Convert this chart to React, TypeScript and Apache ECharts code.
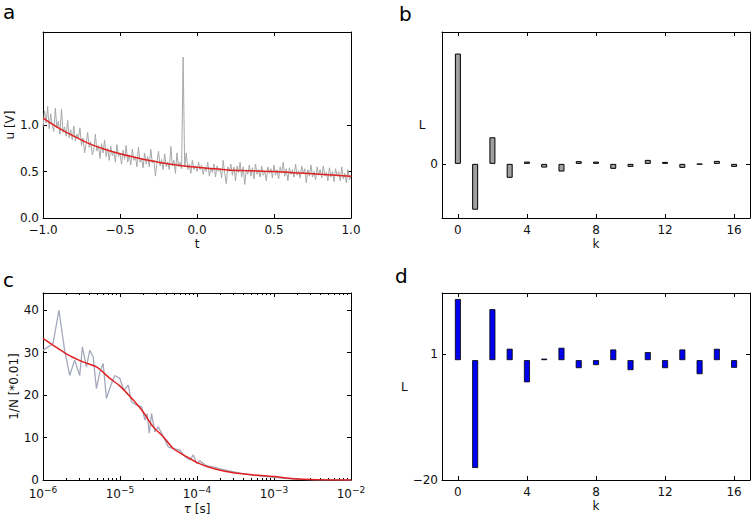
import React, { useEffect, useRef } from "react";
import * as echarts from "echarts";

const FONT = "DejaVu Sans";

// Panel a: noisy signal u(t), sampled every 0.01 from t = -1.0
const aStart = -1;
const aStep = 0.01;
const aNoisy = [
  0.98, 1.15, 1.02, 1.2, 0.96, 1.12, 1.0, 0.93, 1.18, 0.97,
  1.04, 0.9, 1.17, 0.92, 0.98, 0.88, 1.05, 0.86, 0.95, 0.84,
  0.99, 0.83, 0.9, 0.86, 0.97, 0.78, 0.86, 0.7, 0.8, 0.92,
  0.76, 0.82, 0.68, 0.74, 0.9, 0.72, 0.78, 0.64, 0.8, 0.7,
  0.84, 0.66, 0.75, 0.62, 0.77, 0.67, 0.72, 0.6, 0.79, 0.66,
  0.7, 0.58, 0.73, 0.63, 0.78, 0.6, 0.68, 0.57, 0.74, 0.62,
  0.66, 0.55, 0.76, 0.6, 0.64, 0.54, 0.7, 0.58, 0.66, 0.55,
  0.74, 0.59, 0.62, 0.45, 0.6, 0.72, 0.56, 0.63, 0.52, 0.69,
  0.55, 0.6, 0.52, 0.77, 0.56, 0.62, 0.48, 0.7, 0.55, 0.6,
  0.53, 1.73, 0.55, 0.7, 0.52, 0.58, 0.48, 0.62, 0.52, 0.56,
  0.5, 0.6, 0.52, 0.57, 0.47, 0.55, 0.5, 0.6, 0.45, 0.54,
  0.49, 0.58, 0.44, 0.56, 0.5, 0.53, 0.43, 0.62, 0.48, 0.37,
  0.55, 0.5, 0.58, 0.46, 0.55, 0.4, 0.56, 0.49, 0.6, 0.44,
  0.55, 0.36, 0.52, 0.47, 0.57, 0.45, 0.54, 0.42, 0.58, 0.47,
  0.52, 0.44, 0.56, 0.46, 0.5, 0.4, 0.55, 0.48, 0.53, 0.43,
  0.57, 0.46, 0.52, 0.42, 0.55, 0.48, 0.6, 0.45, 0.53, 0.4,
  0.54, 0.47, 0.52, 0.44, 0.58, 0.46, 0.51, 0.43, 0.56, 0.48,
  0.53, 0.38, 0.52, 0.45, 0.57, 0.44, 0.5, 0.41, 0.55, 0.46,
  0.52, 0.43, 0.56, 0.45, 0.49, 0.4, 0.54, 0.44, 0.5, 0.39,
  0.53, 0.45, 0.5, 0.4, 0.55, 0.42, 0.48, 0.38, 0.52, 0.41,
  0.45,
];
const aFitT = [-1, -0.9, -0.8, -0.7, -0.6, -0.5, -0.4, -0.3, -0.2, -0.1, 0, 0.1, 0.2, 0.3, 0.4, 0.5, 0.6, 0.7, 0.8, 0.9, 1];
const aFitU = [1.075, 0.97, 0.88, 0.8, 0.74, 0.69, 0.65, 0.615, 0.585, 0.563, 0.545, 0.53, 0.517, 0.51, 0.505, 0.5, 0.49, 0.48, 0.47, 0.46, 0.448];
const aXTicks = [-1, -0.5, 0, 0.5, 1];
const aYTicks = [0, 0.5, 1];

// Panel b and d: coefficients L over k
const kValues = [0, 1, 2, 3, 4, 5, 6, 7, 8, 9, 10, 11, 12, 13, 14, 15, 16];
const bL = [1.107, -0.46, 0.267, -0.14, 0.023, -0.037, -0.077, 0.027, 0.023, -0.05, -0.03, 0.04, 0.02, -0.04, -0.005, 0.03, -0.03];
const dL = [10.2, -18.0, 8.5, 1.9, -3.7, 0.25, 2.06, -1.34, -0.83, 1.78, -1.67, 1.34, -1.34, 1.78, -2.34, 1.89, -1.28];
const kTicks = [0, 4, 8, 12, 16];
const bYTicks = [0];
const dYTicks = [-20, 1];

// Panel c: 1/N vs tau (log axis)
const cTau = [
  1e-6, 1.35e-6, 1.61e-6, 1.91e-6, 2.22e-6, 2.58e-6, 3.0e-6, 3.25e-6, 3.66e-6, 4.05e-6,
  4.48e-6, 4.94e-6, 5.47e-6, 6.04e-6, 6.67e-6, 7.75e-6, 8.57e-6, 9.95e-6, 1.12e-5, 1.28e-5,
  1.41e-5, 1.64e-5, 1.91e-5, 2.11e-5, 2.26e-5, 2.4e-5, 2.57e-5, 2.84e-5, 3.14e-5, 3.65e-5,
  4.24e-5, 4.92e-5, 6.01e-5, 6.98e-5, 8.11e-5, 8.96e-5, 9.91e-5, 1.09e-4, 1.34e-4, 1.63e-4,
  1.99e-4, 2.69e-4, 3.63e-4, 5.41e-4, 8.07e-4, 1.33e-3, 2.19e-3, 3.61e-3, 5.94e-3, 1e-2,
];
const cInv = [
  30.5, 32.1, 40.0, 30.5, 24.6, 28.2, 24.6, 31.3, 26.6, 30.5,
  29.0, 21.5, 25.4, 27.4, 19.2, 22.7, 24.6, 23.9, 21.1, 22.3,
  18.4, 17.6, 17.2, 14.1, 15.6, 11.0, 15.6, 11.3, 12.5, 10.2,
  7.8, 7.4, 7.0, 5.5, 4.7, 5.9, 3.9, 4.5, 3.3, 3.1,
  2.6, 2.1, 1.6, 1.1, 0.8, 0.4, 0.15, 0.05, 0.02, 0.0,
];
const cFitTau = [1e-6, 2.01e-6, 3.3e-6, 4.94e-6, 7.4e-6, 1e-5, 1.49e-5, 2.0e-5, 2.7e-5, 3.65e-5, 4.92e-5, 7.3e-5, 1e-4, 1.63e-4, 2.98e-4, 5.4e-4, 1e-3, 1.8e-3, 3.6e-3, 1e-2];
const cFit = [33.3, 29.7, 27.8, 26.6, 23.9, 22.1, 18.8, 16.0, 12.5, 10.2, 7.4, 5.5, 4.1, 2.7, 1.7, 1.2, 0.8, 0.3, 0.08, 0.0];
const cMajor = [1e-6, 1e-5, 1e-4, 1e-3, 1e-2];
const cMinor = [
  2e-6, 3e-6, 4e-6, 5e-6, 6e-6, 7e-6, 8e-6, 9e-6,
  2e-5, 3e-5, 4e-5, 5e-5, 6e-5, 7e-5, 8e-5, 9e-5,
  2e-4, 3e-4, 4e-4, 5e-4, 6e-4, 7e-4, 8e-4, 9e-4,
  2e-3, 3e-3, 4e-3, 5e-3, 6e-3, 7e-3, 8e-3, 9e-3,
];
const cYTicks = [0, 10, 20, 30, 40];

const txt = { color: "#111", fontSize: 12, fontFamily: FONT };
const minus = (v: number, d: number) => (v < 0 ? "\u2212" : "") + Math.abs(v).toFixed(d);

function frameAxis(gridIndex: number, position: string, extra: any) {
  return {
    gridIndex,
    position,
    axisLine: { show: true, onZero: false, lineStyle: { color: "#000", width: 1 } },
    splitLine: { show: false },
    axisTick: { show: true, inside: true, length: 4, lineStyle: { color: "#000", width: 1 } },
    axisLabel: { show: false },
    ...extra,
  };
}

export default function App() {
  const ref = useRef<HTMLDivElement>(null);
  useEffect(() => {
    if (!ref.current) return;
    const chart = echarts.init(ref.current, undefined, { renderer: "svg" });
    const grids = [
      { left: 43, top: 32, width: 308, height: 186 },
      { left: 442, top: 32, width: 308, height: 186 },
      { left: 43, top: 293, width: 308, height: 187 },
      { left: 442, top: 293, width: 308, height: 187 },
    ];
    const tickX = (vals: number[]) => ({ show: true, inside: true, length: 4, lineStyle: { color: "#000" }, customValues: vals });
    const labels = (vals: number[], fmt: any, margin = 6) => ({ show: true, customValues: vals, formatter: fmt, margin, ...txt });
    const kLim = { type: "value", min: -0.92, max: 16.92 };
    const xAxis: any[] = [
      frameAxis(0, "bottom", { type: "value", min: -1, max: 1, axisTick: tickX(aXTicks), axisLabel: labels(aXTicks, (v: number) => minus(v, 1)), name: "t", nameLocation: "middle", nameGap: 20, nameTextStyle: txt }),
      frameAxis(0, "top", { type: "value", min: -1, max: 1, axisTick: tickX(aXTicks) }),
      frameAxis(1, "bottom", { ...kLim, axisTick: tickX(kTicks), axisLabel: labels(kTicks, (v: number) => String(v)), name: "k", nameLocation: "middle", nameGap: 20, nameTextStyle: txt }),
      frameAxis(1, "top", { ...kLim, axisTick: tickX(kTicks) }),
      frameAxis(2, "bottom", {
        type: "log", logBase: 10, min: 1e-6, max: 1e-2,
        axisTick: tickX(cMajor),
        axisLabel: {
          show: true, customValues: cMajor, margin: 5,
          formatter: (v: number) => "{b|10}{s|\u2212" + Math.round(-Math.log10(v)) + "}",
          rich: {
            b: { fontSize: 12, fontFamily: FONT, color: "#111" },
            s: { fontSize: 9, fontFamily: FONT, color: "#111", padding: [0, 0, 8, 0] },
          },
        },
        name: "{i|\u03c4} [s]", nameLocation: "middle", nameGap: 23,
        nameTextStyle: { ...txt, rich: { i: { fontStyle: "italic", fontSize: 12, fontFamily: FONT, color: "#111" } } },
      }),
      frameAxis(2, "top", { type: "log", logBase: 10, min: 1e-6, max: 1e-2, axisTick: tickX(cMajor) }),
      frameAxis(3, "bottom", { ...kLim, axisTick: tickX(kTicks), axisLabel: labels(kTicks, (v: number) => String(v)), name: "k", nameLocation: "middle", nameGap: 20, nameTextStyle: txt }),
      frameAxis(3, "top", { ...kLim, axisTick: tickX(kTicks) }),
      frameAxis(2, "bottom", { type: "log", logBase: 10, min: 1e-6, max: 1e-2, axisLine: { show: false, onZero: false }, axisTick: { show: true, inside: true, length: 2, lineStyle: { color: "#000" }, customValues: cMinor } }),
      frameAxis(2, "top", { type: "log", logBase: 10, min: 1e-6, max: 1e-2, axisLine: { show: false, onZero: false }, axisTick: { show: true, inside: true, length: 2, lineStyle: { color: "#000" }, customValues: cMinor } }),
    ];
    const yAxis: any[] = [
      frameAxis(0, "left", { type: "value", min: 0, max: 2, axisTick: tickX(aYTicks), axisLabel: labels(aYTicks, (v: number) => minus(v, 1), 4), name: "u [V]", nameLocation: "middle", nameGap: 25, nameTextStyle: txt }),
      frameAxis(0, "right", { type: "value", min: 0, max: 2, axisTick: tickX(aYTicks) }),
      frameAxis(1, "left", { type: "value", min: -0.543, max: 1.323, axisTick: tickX(bYTicks), axisLabel: labels(bYTicks, (v: number) => String(v), 4), name: "L", nameLocation: "middle", nameRotate: 0, nameGap: 16, nameTextStyle: txt }),
      frameAxis(1, "right", { type: "value", min: -0.543, max: 1.323, axisTick: tickX(bYTicks) }),
      frameAxis(2, "left", { type: "value", min: 0, max: 44, axisTick: tickX(cYTicks), axisLabel: labels(cYTicks, (v: number) => String(v), 4), name: "1/N [*0.01]", nameLocation: "middle", nameGap: 23, nameTextStyle: txt }),
      frameAxis(2, "right", { type: "value", min: 0, max: 44, axisTick: tickX(cYTicks) }),
      frameAxis(3, "left", { type: "value", min: -20, max: 11.2, axisTick: tickX(dYTicks), axisLabel: labels(dYTicks, (v: number) => minus(v, 0), 4), name: "L", nameLocation: "middle", nameRotate: 0, nameGap: 34, nameTextStyle: txt }),
      frameAxis(3, "right", { type: "value", min: -20, max: 11.2, axisTick: tickX(dYTicks) }),
    ];
    const letter = (t: string, x: number, y: number) => ({
      type: "text", x, y,
      style: { text: t, fontSize: 20, fontFamily: FONT, fill: "#000", verticalAlign: "middle" },
    });
    chart.setOption({
      animation: false,
      backgroundColor: "#fff",
      grid: grids,
      xAxis,
      yAxis,
      graphic: [letter("a", 3, 12), letter("b", 399, 14), letter("c", 3, 280), letter("d", 395, 276)],
      series: [
        {
          type: "line", xAxisIndex: 0, yAxisIndex: 0, symbol: "none",
          data: aNoisy.map((v, i) => [aStart + i * aStep, v]),
          lineStyle: { color: "#a8a8a8", width: 1 },
        },
        {
          type: "line", xAxisIndex: 0, yAxisIndex: 0, symbol: "none", smooth: 0.3,
          data: aFitT.map((t, i) => [t, aFitU[i]]),
          lineStyle: { color: "#e02020", width: 1.5 },
        },
        {
          type: "bar", xAxisIndex: 2, yAxisIndex: 2, barWidth: 6,
          data: kValues.map((k, i) => [k, bL[i]]),
          itemStyle: { color: "#a0a0a0", borderColor: "#000", borderWidth: 1 },
        },
        {
          type: "line", xAxisIndex: 4, yAxisIndex: 4, symbol: "none",
          data: cTau.map((t, i) => [t, cInv[i]]),
          lineStyle: { color: "#a4a8bc", width: 1.3 },
        },
        {
          type: "line", xAxisIndex: 4, yAxisIndex: 4, symbol: "none", smooth: 0.3,
          data: cFitTau.map((t, i) => [t, cFit[i]]),
          lineStyle: { color: "#e02020", width: 1.5 },
        },
        {
          type: "bar", xAxisIndex: 6, yAxisIndex: 6, barWidth: 6,
          data: kValues.map((k, i) => [k, dL[i]]),
          itemStyle: { color: "#0000ee", borderColor: "#000", borderWidth: 0.8 },
        },
      ],
    });
    return () => chart.dispose();
  }, []);
  return (
    <div
      ref={ref}
      style={{ position: "fixed", left: 0, top: 0, width: 754, height: 522, background: "#fff" }}
    />
  );
}
